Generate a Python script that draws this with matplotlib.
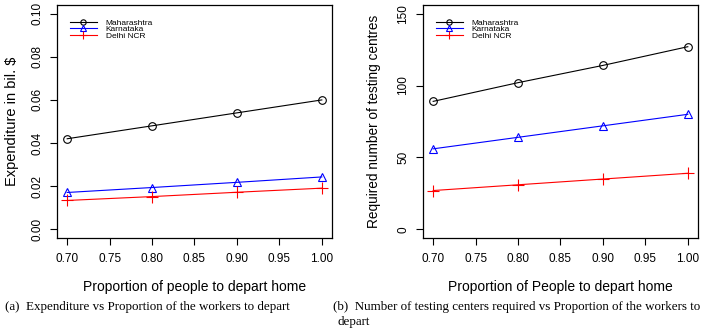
import numpy as np
import matplotlib.pyplot as plt

# data
proportion = [0.70, 0.80, 0.90, 1.00]
states = ['Maharashtra', 'Karnataka', 'Delhi NCR']
expenditure = {
    'Maharashtra': [0.042, 0.048, 0.054, 0.060],
    'Karnataka': [0.0171, 0.0194, 0.0218, 0.0243],
    'Delhi NCR': [0.0134, 0.0152, 0.0172, 0.0191],
}
centres = {
    'Maharashtra': [89, 102, 114, 127],
    'Karnataka': [56, 64, 72, 80],
    'Delhi NCR': [27, 31, 35, 39],
}
x_ticks = [0.70, 0.75, 0.80, 0.85, 0.90, 0.95, 1.00]
y_ticks_a = [0.00, 0.02, 0.04, 0.06, 0.08, 0.10]
y_ticks_b = [0, 50, 100, 150]

colors = {'Maharashtra': 'black', 'Karnataka': 'blue', 'Delhi NCR': 'red'}
markers = {'Maharashtra': 'o', 'Karnataka': '^', 'Delhi NCR': '+'}

plt.rcParams['font.family'] = ['Liberation Sans', 'DejaVu Sans']

W, H = 709, 331
fig = plt.figure(figsize=(W / 100, H / 100), dpi=100)


def px_axes(x0, x1, y0, y1):
    return fig.add_axes([x0 / W, 1 - y1 / H, (x1 - x0) / W, (y1 - y0) / H])


def r_panel(ax, data, yticks, ylabel, xlabel, ylab_x, yfmt, ylab_size):
    for s in states:
        ax.plot(proportion, data[s], color=colors[s], marker=markers[s], lw=0.8,
                ms=5.5 if markers[s] != '+' else 8, mfc='none', mew=0.8, label=s)
    pad_x = 0.04 * (proportion[-1] - proportion[0])
    ax.set_xlim(proportion[0] - pad_x, proportion[-1] + pad_x)
    pad_y = 0.04 * (yticks[-1] - yticks[0])
    ax.set_ylim(yticks[0] - pad_y, yticks[-1] + pad_y)
    ax.set_xticks(x_ticks)
    ax.set_xticklabels(['%.2f' % v for v in x_ticks])
    ax.set_yticks(yticks)
    ax.set_yticklabels([yfmt % v for v in yticks], rotation=90, va='center')
    ax.tick_params(direction='out', length=5, width=0.8, labelsize=8.5)
    ax.tick_params(axis='x', pad=6)
    ax.tick_params(axis='y', pad=5)
    for sp in ax.spines.values():
        sp.set_linewidth(0.9)
    ax.set_xlabel(xlabel, fontsize=10, va='center')
    ax.xaxis.set_label_coords(0.5, -0.21)
    ax.set_ylabel(ylabel, fontsize=ylab_size, va='center')
    ax.yaxis.set_label_coords(ylab_x, 0.5)
    ax.legend(loc='upper left', frameon=False, fontsize=6, handlelength=3.2,
              numpoints=1, labelspacing=-0.14, borderaxespad=0.0, handletextpad=1.1,
              bbox_to_anchor=(0.035, 0.955), markerscale=0.7)


ax1 = px_axes(57, 332, 5, 238)
r_panel(ax1, expenditure, y_ticks_a, 'Expenditure in bil. $',
        'Proportion of people to depart home', -0.164, '%.2f', 10.5)

ax2 = px_axes(423, 698, 5, 238)
r_panel(ax2, centres, y_ticks_b, 'Required number of testing centres',
        'Proportion of People to depart home', -0.179, '%d', 9.8)

cap_font = dict(family=['Liberation Serif', 'DejaVu Serif'], fontsize=9.4, va='center')
fig.text(5 / W, 1 - 307 / H, '(a)  Expenditure vs Proportion of the workers to depart', **cap_font)
fig.text(333 / W, 1 - 307 / H, '(b)  Number of testing centers required vs Proportion of the workers to', **cap_font)
fig.text(338 / W, 1 - 322 / H, 'depart', **cap_font)

fig.savefig('out.png', dpi=100)
